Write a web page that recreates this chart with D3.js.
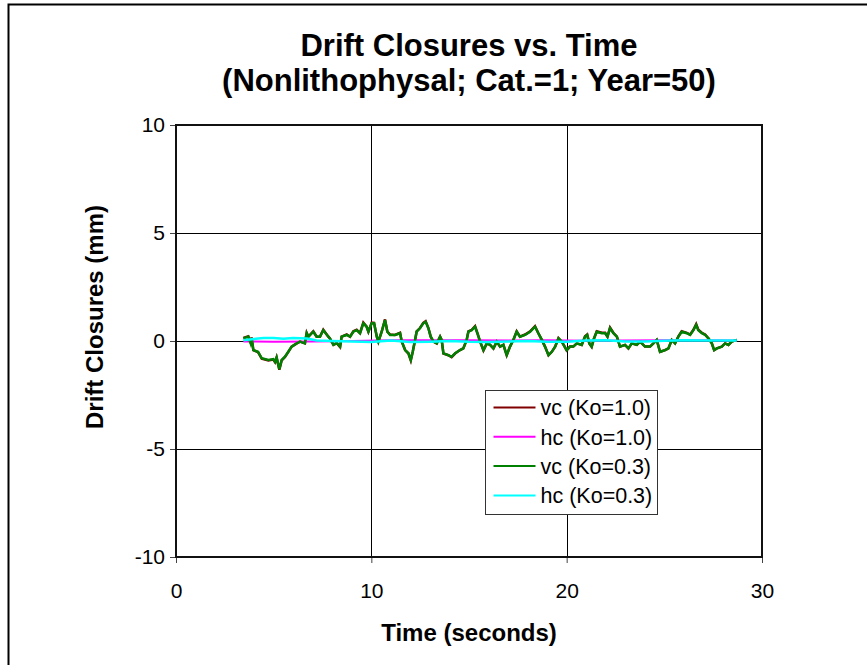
<!DOCTYPE html>
<meta charset="utf-8">
<style>
  body { margin: 0; background: #fff; overflow: hidden; }
  text { font-family: "Liberation Sans", Arial, sans-serif; }
  .grid line { stroke: #000; stroke-width: 1; }
</style>
<body>
</body>
<script src="https://cdn.jsdelivr.net/npm/d3@7"></script>
<script>

var width = 867,
    height = 665;

var plot = {left: 176, right: 762, top: 125, bottom: 557};

var xTicks = [0, 10, 20, 30],
    yTicks = [-10, -5, 0, 5, 10];

var seriesNames = ["vc (Ko=1.0)", "hc (Ko=1.0)", "vc (Ko=0.3)", "hc (Ko=0.3)"];
var seriesColors = ["#800000", "#ff00ff", "#008000", "#00ffff"];

// vc (Ko=0.3) - time (s), closure (mm)
var vcK03Time = [3.45, 3.7, 3.82, 3.87, 3.96, 4.2, 4.39, 4.73, 4.98, 5.07, 5.15, 5.29, 5.41, 5.58, 5.75, 5.92,
  6.18, 6.35, 6.6, 6.69, 6.78, 7.03, 7.2, 7.37, 7.54, 7.8, 7.88, 8.06, 8.23, 8.4, 8.48, 8.74, 8.91, 9.08, 9.25,
  9.42, 9.59, 9.76, 9.85, 10.02, 10.14, 10.28, 10.36, 10.53, 10.7, 10.82, 10.96, 11.21, 11.47, 11.56, 11.73,
  11.9, 12.02, 12.12, 12.24, 12.32, 12.49, 12.66, 12.78, 12.92, 13.04, 13.18, 13.35, 13.52, 13.6, 13.69, 13.94,
  14.11, 14.29, 14.54, 14.71, 14.88, 14.97, 15.14, 15.31, 15.43, 15.57, 15.74, 15.91, 16.08, 16.25, 16.42,
  16.59, 16.76, 16.93, 17.1, 17.27, 17.44, 17.61, 17.87, 18.13, 18.38, 18.55, 18.73, 18.89, 19.07, 19.24,
  19.41, 19.58, 19.75, 20.0, 20.17, 20.34, 20.52, 20.77, 20.94, 21.05, 21.16, 21.28, 21.4, 21.54, 21.8, 21.97,
  22.09, 22.22, 22.39, 22.57, 22.65, 22.73, 22.99, 23.16, 23.33, 23.59, 23.76, 24.01, 24.27, 24.44, 24.61,
  24.78, 25.04, 25.21, 25.38, 25.55, 25.72, 25.89, 26.15, 26.32, 26.49, 26.63, 26.74, 26.92, 27.09, 27.26,
  27.43, 27.55, 27.69, 27.94, 28.11, 28.28, 28.45, 28.71];
var vcK03 = [0.12, 0.2, -0.1, 0.14, -0.42, -0.5, -0.8, -0.88, -0.84, -0.96, -0.76, -1.31, -0.88, -0.73, -0.5, -0.26,
  -0.11, -0.03, -0.11, 0.36, 0.2, 0.43, 0.2, 0.2, 0.5, 0.2, 0.12, -0.18, -0.1, -0.26, 0.2, 0.28, 0.2, 0.43, 0.5,
  0.36, 0.82, 0.66, 0.43, 0.82, 0.82, 0.2, -0.03, 0.43, 0.97, 0.43, 0.28, 0.28, 0.36, -0.03, -0.42,
  -0.57, -0.88, -0.5, 0.05, 0.43, 0.59, 0.82, 0.89, 0.59, 0.2, -0.03, -0.11, 0.2, 0.05, -0.57, -0.65,
  -0.73, -0.57, -0.42, -0.34, 0.05, 0.43, 0.5, 0.66, 0.36, -0.03, -0.42, -0.11, -0.18, -0.34, -0.03,
  -0.26, -0.18, -0.65, -0.26, 0.05, 0.43, 0.2, 0.28, 0.43, 0.66, 0.36, 0.05, -0.26, -0.65, -0.5,
  -0.26, 0.12, -0.03, -0.42, -0.26, -0.26, -0.11, -0.18, 0.2, 0.28, -0.11, -0.26, 0.12, 0.43, 0.36, 0.36,
  0.2, 0.59, 0.36, 0.2, -0.03, -0.26, -0.18, -0.34, -0.11, -0.18, -0.03, -0.26, -0.26, -0.11, 0.05,
  -0.5, -0.42, -0.34, 0.05, -0.11, 0.2, 0.43, 0.36, 0.28, 0.5, 0.74, 0.5, 0.36, 0.28, 0.12,
  -0.11, -0.42, -0.34, -0.26, -0.11, -0.18, -0.03, 0.05];

// vc (Ko=1.0) - almost on top of the green line, peaks a touch higher
var vcK10 = [0.14, 0.22, -0.1, 0.16, -0.42, -0.52, -0.82, -0.9, -0.86, -0.98, -0.76, -1.33, -0.9, -0.74, -0.5, -0.26,
  -0.11, -0.03, -0.11, 0.38, 0.2, 0.45, 0.2, 0.2, 0.52, 0.2, 0.12, -0.18, -0.1, -0.28, 0.2, 0.3, 0.2, 0.45, 0.52,
  0.36, 0.85, 0.66, 0.43, 0.85, 0.84, 0.2, -0.03, 0.43, 1.0, 0.43, 0.3, 0.28, 0.38, -0.03, -0.42,
  -0.58, -0.9, -0.5, 0.05, 0.45, 0.6, 0.84, 0.92, 0.6, 0.2, -0.03, -0.12, 0.2, 0.05, -0.58, -0.66,
  -0.75, -0.58, -0.42, -0.34, 0.05, 0.45, 0.52, 0.69, 0.36, -0.03, -0.44, -0.11, -0.18, -0.35, -0.03,
  -0.26, -0.18, -0.66, -0.26, 0.05, 0.45, 0.2, 0.3, 0.45, 0.69, 0.36, 0.05, -0.26, -0.66, -0.5,
  -0.26, 0.14, -0.03, -0.43, -0.26, -0.26, -0.11, -0.18, 0.22, 0.3, -0.11, -0.27, 0.12, 0.45, 0.38, 0.38,
  0.2, 0.62, 0.38, 0.2, -0.03, -0.26, -0.18, -0.35, -0.11, -0.18, -0.03, -0.26, -0.26, -0.11, 0.05,
  -0.5, -0.42, -0.34, 0.05, -0.11, 0.22, 0.45, 0.38, 0.3, 0.52, 0.78, 0.52, 0.38, 0.3, 0.12,
  -0.11, -0.42, -0.34, -0.26, -0.11, -0.18, -0.03, 0.05];

// hc (Ko=1.0)
var hcK10Time = [3.45, 5.0, 7.0, 9.0, 11.0, 13.0, 15.0, 17.0, 19.0, 21.0, 23.0, 25.0, 27.0, 28.71];
var hcK10 = [-0.02, -0.03, -0.02, 0.0, 0.03, 0.04, 0.03, 0.02, 0.03, 0.01, 0.02, 0.03, 0.03, 0.02];

// hc (Ko=0.3)
var hcK03Time = [3.45, 4.2, 4.5, 5.0, 5.5, 6.0, 6.7, 7.2, 8.0, 9.0, 10.0, 11.0, 12.0, 13.0, 14.0, 15.0, 16.0,
  17.0, 18.0, 19.0, 20.0, 21.0, 22.0, 23.0, 24.0, 25.0, 26.0, 27.0, 28.71];
var hcK03 = [0.04, 0.12, 0.14, 0.14, 0.1, 0.14, 0.12, 0.02, 0.0, -0.02, -0.05, 0.02, -0.05, -0.03, 0.0, -0.04,
  -0.05, -0.02, 0.0, -0.03, -0.03, 0.02, 0.03, -0.02, -0.02, 0.01, 0.03, 0.02, 0.02];

var series = [
  {name: seriesNames[0], color: seriesColors[0], width: 2.5, t: vcK03Time, v: vcK10},
  {name: seriesNames[1], color: seriesColors[1], width: 2, t: hcK10Time, v: hcK10},
  {name: seriesNames[2], color: seriesColors[2], width: 2.5, t: vcK03Time, v: vcK03},
  {name: seriesNames[3], color: seriesColors[3], width: 2.5, t: hcK03Time, v: hcK03}
];

var svg = d3.select("body").append("svg")
    .attr("width", width)
    .attr("height", height);

// outer chart border
svg.append("rect")
    .attr("x", 8.5).attr("y", 4.5)
    .attr("width", 900).attr("height", 700)
    .style("fill", "#fff")
    .style("stroke", "#000")
    .style("stroke-width", 2);

var x = d3.scaleLinear().domain([0, 30]).range([plot.left, plot.right]),
    y = d3.scaleLinear().domain([-10, 10]).range([plot.bottom, plot.top]);

// gridlines
svg.append("g").attr("class", "grid")
  .selectAll("line").data(xTicks.slice(1, -1))
  .enter().append("line")
    .attr("x1", d => Math.round(x(d)) + 0.5).attr("x2", d => Math.round(x(d)) + 0.5)
    .attr("y1", plot.top).attr("y2", plot.bottom);

svg.append("g").attr("class", "grid")
  .selectAll("line").data(yTicks.slice(1, -1))
  .enter().append("line")
    .attr("y1", d => Math.round(y(d)) + 0.5).attr("y2", d => Math.round(y(d)) + 0.5)
    .attr("x1", plot.left).attr("x2", plot.right);

// axes (tick marks + labels), plain hyphen for negatives
var xAxis = svg.append("g")
    .attr("transform", "translate(0," + plot.bottom + ")")
    .call(d3.axisBottom(x).tickValues(xTicks).tickFormat(d => String(d)).tickSize(6).tickPadding(20));

var yAxis = svg.append("g")
    .attr("transform", "translate(" + plot.left + ",0)")
    .call(d3.axisLeft(y).tickValues(yTicks).tickFormat(d => String(d)).tickSize(6).tickPadding(5));

[xAxis, yAxis].forEach(function(a) {
  a.attr("font-size", null).attr("font-family", null);
  a.select(".domain").remove();
  a.selectAll(".tick line").style("stroke", "#444");
  a.selectAll("text")
      .style("font-size", "21px")
      .style("fill", "#000");
});

// data lines
var line = d3.line()
    .x(d => x(d[0]))
    .y(d => y(d[1]));

svg.append("g")
  .selectAll("path")
  .data(series)
  .enter().append("path")
    .attr("d", s => line(s.t.map((t, i) => [t, s.v[i]])))
    .style("fill", "none")
    .style("stroke", s => s.color)
    .style("stroke-width", s => s.width)
    .style("stroke-linejoin", "miter");

// plot frame
svg.append("rect")
    .attr("x", plot.left).attr("y", plot.top)
    .attr("width", plot.right - plot.left).attr("height", plot.bottom - plot.top)
    .style("fill", "none")
    .style("stroke", "#111")
    .style("stroke-width", 2);

// legend
var legend = svg.append("g")
    .attr("transform", "translate(485.5,390.5)");

legend.append("rect")
    .attr("width", 172).attr("height", 124)
    .style("fill", "#fff")
    .style("stroke", "#333")
    .style("stroke-width", 1);

var items = legend.selectAll(".item")
    .data(series)
  .enter().append("g")
    .attr("transform", (d, i) => "translate(0," + (17 + i * 29.3) + ")");

items.append("line")
    .attr("x1", 8).attr("x2", 50)
    .style("stroke", d => d.color)
    .style("stroke-width", 2);

items.append("text")
    .attr("x", 55)
    .attr("dy", "0.36em")
    .style("font-size", "21.5px")
    .text(d => d.name);

// titles
svg.append("text")
    .attr("x", 469).attr("y", 56)
    .attr("text-anchor", "middle")
    .style("font-size", "31px").style("font-weight", "bold")
    .text("Drift Closures vs. Time");

svg.append("text")
    .attr("x", 469).attr("y", 91)
    .attr("text-anchor", "middle")
    .style("font-size", "31px").style("font-weight", "bold")
    .text("(Nonlithophysal; Cat.=1; Year=50)");

svg.append("text")
    .attr("x", 469).attr("y", 641)
    .attr("text-anchor", "middle")
    .style("font-size", "24px").style("font-weight", "bold")
    .text("Time (seconds)");

svg.append("text")
    .attr("transform", "translate(103,317) rotate(-90)")
    .attr("text-anchor", "middle")
    .style("font-size", "24px").style("font-weight", "bold")
    .text("Drift Closures (mm)");

</script>
